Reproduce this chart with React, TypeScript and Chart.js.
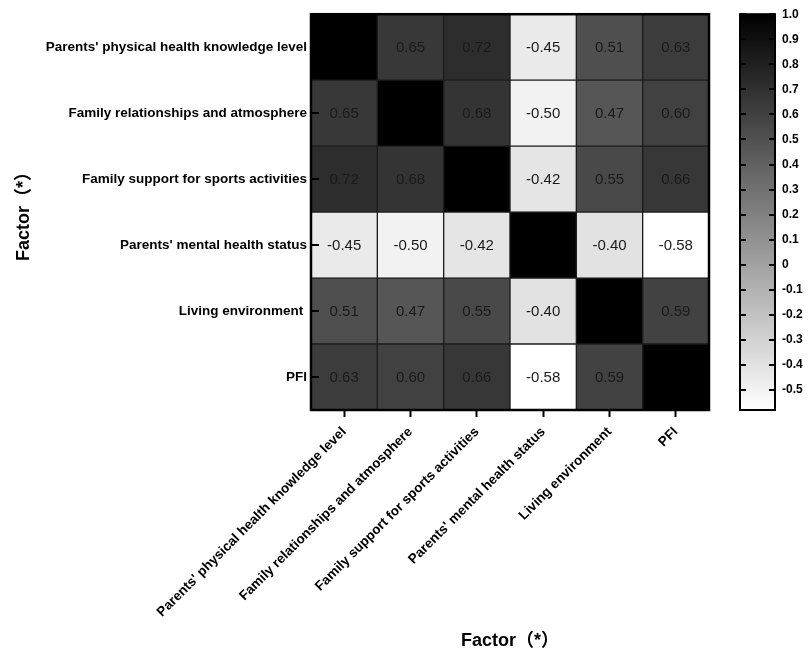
import React, { useEffect, useRef } from 'react';
import { Chart, registerables } from 'chart.js';

Chart.register(...registerables);

// ---- data ----
const factors = [
  "Parents' physical health knowledge level",
  'Family relationships and atmosphere',
  'Family support for sports activities',
  "Parents' mental health status",
  'Living environment',
  'PFI',
];
const rowLabels = [
  "Parents' physical health knowledge level",
  'Family relationships and atmosphere',
  'Family support for sports activities',
  "Parents' mental health status",
  'Living environment ',
  'PFI',
];
const rowPhysicalKnowledge = [1.0, 0.65, 0.72, -0.45, 0.51, 0.63];
const rowFamilyRelations = [0.65, 1.0, 0.68, -0.5, 0.47, 0.6];
const rowFamilySupport = [0.72, 0.68, 1.0, -0.42, 0.55, 0.66];
const rowMentalHealth = [-0.45, -0.5, -0.42, 1.0, -0.4, -0.58];
const rowLivingEnv = [0.51, 0.47, 0.55, -0.4, 1.0, 0.59];
const rowPFI = [0.63, 0.6, 0.66, -0.58, 0.59, 1.0];
const matrix = [rowPhysicalKnowledge, rowFamilyRelations, rowFamilySupport, rowMentalHealth, rowLivingEnv, rowPFI];

const colorbarTicks = [1.0, 0.9, 0.8, 0.7, 0.6, 0.5, 0.4, 0.3, 0.2, 0.1, 0, -0.1, -0.2, -0.3, -0.4, -0.5];
const colorMin = -0.58;
const colorMax = 1.0;
const axisTitle = 'Factor（*）';

const FONT = "'Liberation Sans', Arial, 'Noto Sans CJK SC', sans-serif";

function grayFor(v: number): string {
  const t = Math.min(1, Math.max(0, (v - colorMin) / (colorMax - colorMin)));
  const g = Math.round(255 * (1 - t));
  return `rgb(${g},${g},${g})`;
}

const heatPlugin = {
  id: 'heatExtras',
  afterDatasetsDraw(chart: any) {
    const { ctx, chartArea: a } = chart;
    ctx.save();
    // cell value labels
    ctx.font = `15px ${FONT}`;
    ctx.fillStyle = '#1a1a1a';
    ctx.textAlign = 'center';
    ctx.textBaseline = 'middle';
    chart.data.datasets.forEach((ds: any, k: number) => {
      const r = ds.rowIndex;
      const meta = chart.getDatasetMeta(k);
      meta.data.forEach((el: any, c: number) => {
        if (r === c) return;
        const p = el.getProps(['x', 'y', 'base'], true);
        ctx.fillText(matrix[r][c].toFixed(2), p.x, (p.y + p.base) / 2 + 1);
      });
    });
    // inward y ticks
    const ys = chart.scales.y;
    ctx.strokeStyle = '#000';
    ctx.lineWidth = 2;
    ys.ticks.forEach((t: any) => {
      const py = Math.round(ys.getPixelForValue(t.value));
      ctx.beginPath();
      ctx.moveTo(a.left, py);
      ctx.lineTo(a.left + 8, py);
      ctx.stroke();
    });
    // frame
    ctx.lineWidth = 2.5;
    ctx.strokeRect(a.left, a.top, a.right - a.left, a.bottom - a.top);

    // colorbar
    const cb = chart.scales.cb;
    const x0 = cb.left + 31;
    const x1 = cb.left + 66;
    const yTop = cb.getPixelForValue(colorMax);
    const yBot = cb.getPixelForValue(colorMin);
    const grad = ctx.createLinearGradient(0, yTop, 0, yBot);
    grad.addColorStop(0, grayFor(colorMax));
    grad.addColorStop(1, grayFor(colorMin));
    ctx.fillStyle = grad;
    ctx.fillRect(x0, yTop, x1 - x0, yBot - yTop);
    ctx.lineWidth = 2;
    colorbarTicks.forEach((v) => {
      const py = Math.round(cb.getPixelForValue(v));
      ctx.beginPath();
      ctx.moveTo(x0, py);
      ctx.lineTo(x0 + 6, py);
      ctx.moveTo(x1 - 6, py);
      ctx.lineTo(x1, py);
      ctx.stroke();
    });
    ctx.lineWidth = 2;
    ctx.strokeRect(x0, yTop, x1 - x0, yBot - yTop);
    ctx.restore();
  },
};

export default function App() {
  const ref = useRef<HTMLCanvasElement | null>(null);

  useEffect(() => {
    if (!ref.current) return;
    const n = factors.length;
    const datasets: any[] = [];
    for (let k = 0; k < n; k++) {
      const r = n - 1 - k;
      datasets.push({
        label: rowLabels[r],
        rowIndex: r,
        data: matrix[r].map(() => 1),
        backgroundColor: matrix[r].map(grayFor),
        borderColor: '#1c1c1c',
        borderWidth: 1,
        borderSkipped: false,
        barPercentage: 1,
        categoryPercentage: 1,
      });
    }

    const chart = new Chart(ref.current, {
      type: 'bar',
      data: { labels: factors, datasets },
      options: {
        animation: false,
        responsive: false,
        maintainAspectRatio: false,
        layout: { padding: { left: 9, top: 13, right: 0, bottom: 0 } },
        plugins: { legend: { display: false }, tooltip: { enabled: false } },
        scales: {
          x: {
            type: 'category',
            stacked: true,
            offset: true,
            grid: {
              display: true,
              drawOnChartArea: false,
              offset: false,
              drawTicks: true,
              tickLength: 7,
              tickWidth: 2,
              tickColor: '#000',
              color: '#000',
            },
            border: { display: false },
            ticks: {
              color: '#000',
              font: { family: FONT, size: 13.5, weight: 'bold' },
              minRotation: 45,
              maxRotation: 45,
              autoSkip: false,
              padding: 7,
            },
            title: {
              display: true,
              text: axisTitle,
              color: '#000',
              font: { family: FONT, size: 18, weight: 'bold' },
              padding: { top: 0, bottom: 1 },
            },
            afterFit: (s: any) => {
              s.height = 243;
            },
          },
          y: {
            type: 'linear',
            stacked: true,
            min: 0,
            max: n,
            position: 'left',
            afterBuildTicks: (s: any) => {
              s.ticks = rowLabels.map((_, i) => ({ value: i + 0.5 }));
            },
            ticks: {
              autoSkip: false,
              color: '#000',
              font: { family: FONT, size: 13.5, weight: 'bold' },
              padding: 4,
              callback: (v: any) => rowLabels[n - 1 - Math.floor(Number(v))],
            },
            grid: { display: false, drawTicks: false },
            border: { display: false },
            title: {
              display: true,
              text: axisTitle,
              color: '#000',
              font: { family: FONT, size: 18, weight: 'bold' },
              padding: { top: 4, bottom: 10 },
            },
            afterFit: (s: any) => {
              s.width = 302;
            },
          },
          cb: {
            type: 'linear',
            position: 'right',
            min: colorMin,
            max: colorMax,
            afterBuildTicks: (s: any) => {
              s.ticks = colorbarTicks.map((v) => ({ value: v }));
            },
            ticks: {
              autoSkip: false,
              color: '#000',
              font: { family: FONT, size: 12, weight: 'bold' },
              padding: 7,
              callback: (v: any) => (Math.abs(Number(v)) < 1e-9 ? '0' : Number(v).toFixed(1)),
            },
            grid: {
              display: true,
              drawOnChartArea: false,
              drawTicks: true,
              tickLength: 66,
              color: 'rgba(0,0,0,0)',
              tickColor: 'rgba(0,0,0,0)',
            },
            border: { display: false },
            afterFit: (s: any) => {
              s.width = 103;
            },
          },
        },
      } as any,
      plugins: [heatPlugin],
    });
    return () => chart.destroy();
  }, []);

  return (
    <div style={{ position: 'absolute', left: 0, top: 0, width: 812, height: 653, background: '#fff' }}>
      <canvas ref={ref} width={812} height={653} style={{ display: 'block' }} />
    </div>
  );
}
